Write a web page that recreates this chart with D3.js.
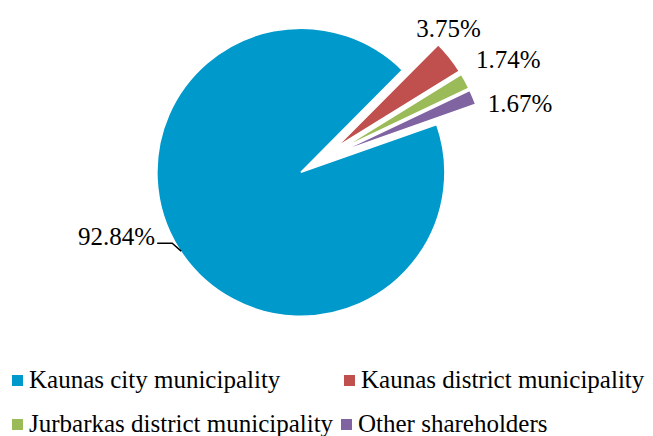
<!DOCTYPE html>
<html>
<head>
<meta charset="utf-8">
<script src="https://cdn.jsdelivr.net/npm/d3@7"></script>
<style>
  body { margin: 0; background: #fff; }
</style>
</head>
<body>
<div id="chart"></div>
<script>
// Shareholder data
var categories = ['Kaunas city municipality', 'Kaunas district municipality',
                  'Jurbarkas district municipality', 'Other shareholders'];
var shares = [92.84, 3.75, 1.74, 1.67];
var shareLabels = ['92.84%', '3.75%', '1.74%', '1.67%'];
var colors = ['#0099cc', '#c0504d', '#9bbb59', '#8064a2'];

var width = 653, height = 436;
var cx = 319.5, cy = 160.5, radius = 144, explode = 22;

var svg = d3.select('#chart').append('svg')
    .attr('width', width)
    .attr('height', height)
    .attr('font-family', 'Liberation Serif');

var pie = d3.pie()
    .sort(null)
    .value(function (d) { return d; })
    .startAngle(70.6 * Math.PI / 180)
    .endAngle(70.6 * Math.PI / 180 + 2 * Math.PI);

var arc = d3.arc().innerRadius(0).outerRadius(radius);
var arcs = pie(shares);

function midAngle(d) { return (d.startAngle + d.endAngle) / 2; }
function polar(a, r) { return [Math.sin(a) * r, -Math.cos(a) * r]; }

var g = svg.append('g').attr('transform', 'translate(' + cx + ',' + cy + ')');

// exploded slices
g.selectAll('path')
    .data(arcs)
    .enter().append('path')
    .attr('d', arc)
    .attr('fill', function (d, i) { return colors[i]; })
    .attr('stroke', '#fff')
    .attr('stroke-width', 1.5)
    .attr('transform', function (d) {
        var p = polar(midAngle(d), explode);
        return 'translate(' + p[0] + ',' + p[1] + ')';
    });

// label nudges relative to the outer edge of each slice
var nudge = [[-24, -4], [-1, -20], [43, -13], [47, 15]];

function outerPoint(d) {
    return polar(midAngle(d), explode + radius);
}

g.selectAll('text.lbl')
    .data(arcs)
    .enter().append('text')
    .attr('class', 'lbl')
    .attr('x', function (d, i) { return outerPoint(d)[0] + nudge[i][0]; })
    .attr('y', function (d, i) { return outerPoint(d)[1] + nudge[i][1]; })
    .attr('text-anchor', function (d, i) { return i === 0 ? 'end' : 'middle'; })
    .attr('font-size', 25)
    .text(function (d, i) { return shareLabels[i]; });

// leader line for the big slice
var op = outerPoint(arcs[0]);
g.append('path')
    .attr('d', 'M' + (op[0] + 2) + ',' + (op[1] + 2) + 'L' + (op[0] - 7) + ',' + (op[1] - 6) +
        'L' + (op[0] - 22) + ',' + (op[1] - 6))
    .attr('fill', 'none')
    .attr('stroke', '#000')
    .attr('stroke-width', 1.5);

// legend
var legendPos = [[12, 381], [344, 381], [12, 425], [341, 425]];
var legend = svg.selectAll('g.legend')
    .data(categories)
    .enter().append('g')
    .attr('class', 'legend')
    .attr('transform', function (d, i) { return 'translate(' + legendPos[i][0] + ',' + legendPos[i][1] + ')'; });

legend.append('rect')
    .attr('x', 0).attr('y', -6)
    .attr('width', 11).attr('height', 11)
    .attr('fill', function (d, i) { return colors[i]; });

legend.append('text')
    .attr('x', 17)
    .attr('y', 7)
    .attr('font-size', 25)
    .text(function (d) { return d; });
</script>
</body>
</html>
